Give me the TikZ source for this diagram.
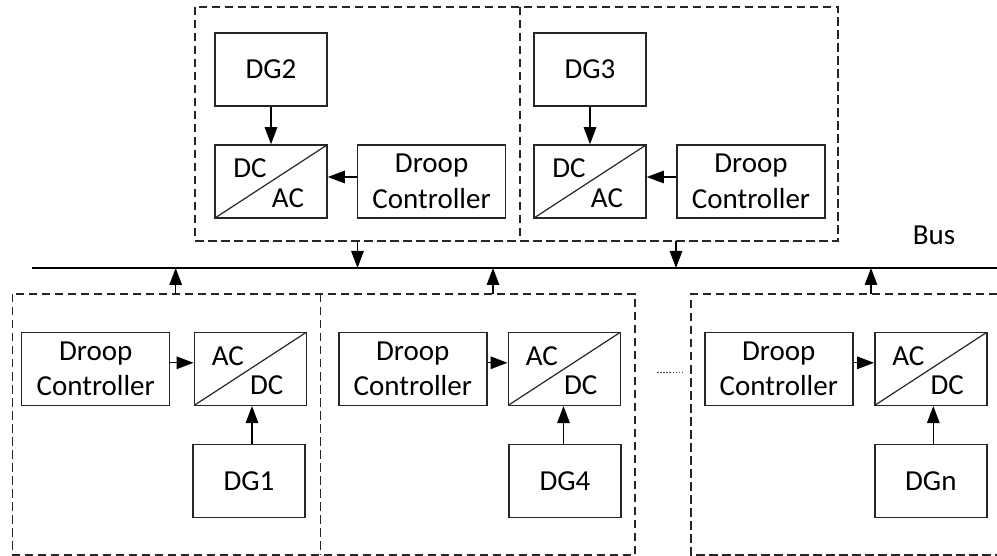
\documentclass[tikz,border=0pt]{standalone}
\usepackage{fontspec}
\setmainfont{Carlito}
\usetikzlibrary{arrows.meta}

\tikzset{
  blk/.style={draw=black!85, line width=1.5pt, minimum width=112pt, minimum height=73pt,
              inner sep=0pt, font=\fontsize{29}{35.5}\selectfont, align=center},
  ctrl/.style={blk, minimum width=148pt},
  conv/.style={blk, path picture={\draw[line width=1.2pt]
      (path picture bounding box.south west) -- (path picture bounding box.north east);}},
  lbl/.style={inner sep=0pt, font=\fontsize{29}{35.5}\selectfont},
  grp/.style={draw=black!85, line width=1.4pt, dash pattern=on 8.5pt off 4.5pt},
  arr/.style={draw=black, line width=1.4pt, -{Triangle[length=17pt,width=12.5pt]}},
  busline/.style={draw=black, line width=1.6pt},
  etc/.style={draw=black!70, line width=1.3pt, dash pattern=on 1.5pt off 1.6pt},
}

\begin{document}
\begin{tikzpicture}[x=1pt, y=-1pt]
\useasboundingbox (0,0) rectangle (997,556);

% ---------- bus ----------
\coordinate (busL) at (32,268);
\coordinate (busR) at (997,268);
\draw[busline] (busL) -- (busR);
\node[lbl] (buslbl) at (934,235) {Bus};

% ---------- upper group frames (DG2, DG3) ----------
\draw[grp] (195,7) rectangle (838,241);
\draw[grp] (520,7) -- (520,241);

\node[blk]  (dg2)   at (271,69.5)   {DG2};
\node[conv] (inv2)  at (271,181.5)  {};
\node[ctrl] (drp2)  at (431.6,181.5) {Droop\\Controller};
\node[lbl] at ([xshift=-21pt,yshift=13pt]inv2.center) {DC};
\node[lbl] at ([xshift=17pt,yshift=-16.5pt]inv2.center) {AC};

\node[blk]  (dg3)   at (590,69.5)   {DG3};
\node[conv] (inv3)  at (590,181.5)  {};
\node[ctrl] (drp3)  at (751,181.5)  {Droop\\Controller};
\node[lbl] at ([xshift=-21pt,yshift=13pt]inv3.center) {DC};
\node[lbl] at ([xshift=17pt,yshift=-16.5pt]inv3.center) {AC};

\draw[arr] (dg2.south) -- (inv2.north);
\draw[arr] (dg3.south) -- (inv3.north);
\draw[arr] ([yshift=4.5pt]drp2.west) -- ([yshift=4.5pt]inv2.east);
\draw[arr] ([yshift=4.5pt]drp3.west) -- ([yshift=4.5pt]inv3.east);

\coordinate (out2) at (357.5,241);
\coordinate (out3) at (676,241);
\draw[arr] (out2) -- (out2 |- busL);
\draw[arr] (out3) -- (out3 |- busL);

% ---------- lower group frames (DG1, DG4, DGn) ----------
\draw[grp] (12.7,294) rectangle (635,555);
\draw[grp] (320.7,294) -- (320.7,555);
\draw[grp] (1010,294) -- (691,294) -- (691,555) -- (1010,555);

\node[ctrl] (drp1) at (95.7,368.8)  {Droop\\Controller};
\node[conv] (rec1) at (250.3,368.8) {};
\node[blk]  (dg1)  at (249,481.2)   {DG1};
\node[lbl] at ([xshift=-22.5pt,yshift=13pt]rec1.center) {AC};
\node[lbl] at ([xshift=16.5pt,yshift=-16.5pt]rec1.center) {DC};

\node[ctrl] (drp4) at (412.8,368.8) {Droop\\Controller};
\node[conv] (rec4) at (564.3,368.8) {};
\node[blk]  (dg4)  at (565,481.2)   {DG4};
\node[lbl] at ([xshift=-22.5pt,yshift=13pt]rec4.center) {AC};
\node[lbl] at ([xshift=16.5pt,yshift=-16.5pt]rec4.center) {DC};

\node[ctrl] (drpn) at (778.8,368.8) {Droop\\Controller};
\node[conv] (recn) at (930.8,368.8) {};
\node[blk]  (dgn)  at (930.8,481.2) {DGn};
\node[lbl] at ([xshift=-22.5pt,yshift=13pt]recn.center) {AC};
\node[lbl] at ([xshift=16.5pt,yshift=-16.5pt]recn.center) {DC};

\draw[arr] ([yshift=6pt]drp1.east) -- ([yshift=6pt]rec1.west);
\draw[arr] ([yshift=6pt]drp4.east) -- ([yshift=6pt]rec4.west);
\draw[arr] ([yshift=6pt]drpn.east) -- ([yshift=6pt]recn.west);

\draw[arr] ([xshift=3pt]dg1.north) -- ([xshift=3pt]dg1.north |- rec1.south);
\draw[arr] ([xshift=-1.5pt]dg4.north) -- ([xshift=-1.5pt]dg4.north |- rec4.south);
\draw[arr] ([xshift=2.5pt]dgn.north) -- ([xshift=2.5pt]dgn.north |- recn.south);

\coordinate (out1) at (175.7,294);
\coordinate (out4) at (493,294);
\coordinate (outn) at (871,294);
\draw[arr] (out1) -- (out1 |- busL);
\draw[arr] (out4) -- (out4 |- busL);
\draw[arr] (outn) -- (outn |- busL);

% ---------- ellipsis between groups ----------
\coordinate (etcA) at (657,372.7);
\coordinate (etcB) at (683.5,372.7);
\draw[etc] (etcA) -- (etcB);

\end{tikzpicture}
\end{document}
